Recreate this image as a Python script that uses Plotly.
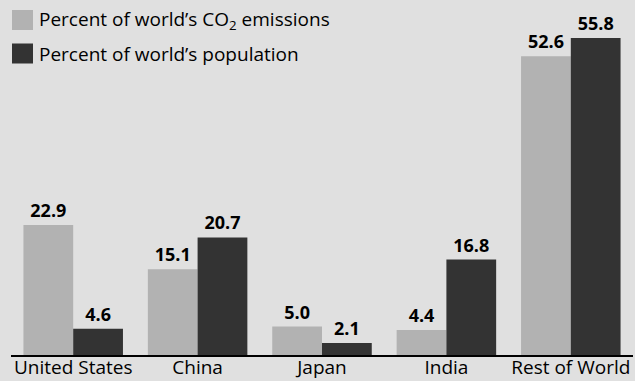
import plotly.graph_objects as go

categories = ["United States", "China", "Japan", "India", "Rest of World"]
co2_emissions = [22.9, 15.1, 5.0, 4.4, 52.6]
population = [4.6, 20.7, 2.1, 16.8, 55.8]
series_names = ["Percent of world\u2019s CO<sub>2</sub> emissions", "Percent of world\u2019s population"]

BG = "#e0e0e0"
LIGHT = "#b2b2b2"
DARK = "#333333"
FONT = "Open Sans"

fig = go.Figure()
fig.add_trace(go.Bar(x=categories, y=co2_emissions, marker_color=LIGHT, marker_line_width=0,
                     text=[f"{v:.1f}" for v in co2_emissions], textposition="outside",
                     textfont=dict(family=FONT, size=18, color="black", weight="bold"),
                     cliponaxis=False, showlegend=False))
fig.add_trace(go.Bar(x=categories, y=population, marker_color=DARK, marker_line_width=0,
                     text=[f"{v:.1f}" for v in population], textposition="outside",
                     textfont=dict(family=FONT, size=18, color="black", weight="bold"),
                     cliponaxis=False, showlegend=False))

# manual legend
for i, (name, col) in enumerate(zip(series_names, [LIGHT, DARK])):
    y0 = 10 + i * 33.5
    fig.add_shape(type="rect", xref="paper", yref="paper",
                  x0=(12 - 11) / 622, x1=(33 - 11) / 622,
                  y0=1 - (y0 + 20) / 355, y1=1 - y0 / 355,
                  fillcolor=col, line_width=0, layer="above")
    fig.add_annotation(xref="paper", yref="paper", x=(37 - 11) / 622, y=1 - (y0 + 10) / 355,
                       text=name, showarrow=False, xanchor="left", yanchor="middle",
                       font=dict(family=FONT, size=19, color="black"))

fig.update_layout(
    width=635, height=381,
    margin=dict(l=11, r=2, t=0, b=26),
    paper_bgcolor=BG, plot_bgcolor=BG,
    barmode="group", bargap=0.2, bargroupgap=0,
    font=dict(family=FONT, size=19, color="black"),
)
fig.update_xaxes(showline=True, linecolor="black", linewidth=2, ticks="", showgrid=False,
                 tickfont=dict(family=FONT, size=19, color="black"), ticklabelstandoff=-6,
                 automargin=False)
fig.update_yaxes(range=[0, 62.5], visible=False, showgrid=False, automargin=False)

fig.write_html("out.html")
